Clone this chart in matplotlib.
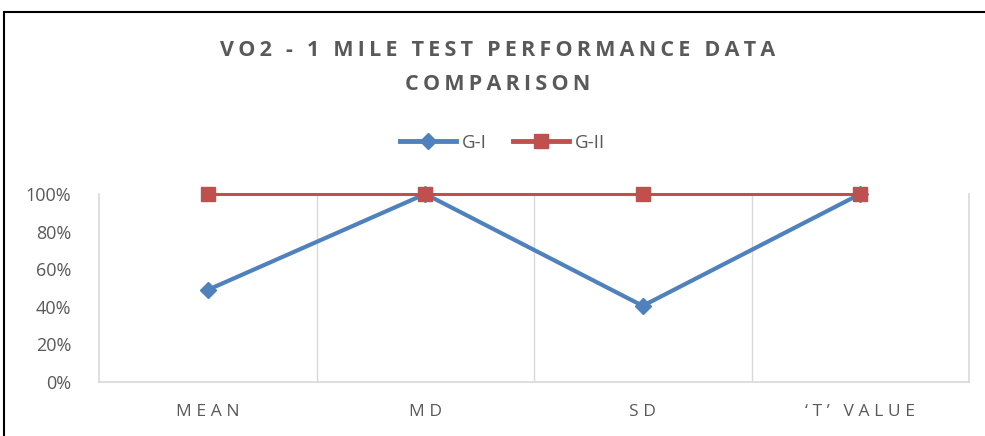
import matplotlib.pyplot as plt
from matplotlib.lines import Line2D
from matplotlib.patches import Rectangle
import numpy as np

categories = ["MEAN", "MD", "SD", "\u2018T\u2019 VALUE"]
g1 = [0.49, 1.00, 0.405, 1.00]
g2 = [1.00, 1.00, 1.00, 1.00]
yticks = [0, 0.2, 0.4, 0.6, 0.8, 1.0]

blue = "#4F81BD"
red = "#C0504D"
gray = "#595959"
grid = "#D9D9D9"

plt.rcParams['font.family'] = ['Open Sans', 'DejaVu Sans']


def spaced(s, sep="\u2009"):
    return sep.join(s)


fig = plt.figure(figsize=(9.85, 4.36), dpi=100)
# outer chart border
fig.patches.append(Rectangle((4 / 985, -0.01), 1.0, 1 - 12 / 436 + 0.01,
                             transform=fig.transFigure, fill=False,
                             edgecolor="black", linewidth=1.5))

ax = fig.add_axes([99 / 985, 1 - 382 / 436, 870 / 985, 188 / 436])
x = np.arange(len(categories))
ax.plot(x, g1, color=blue, lw=3, marker="D", ms=8, label="G-I", zorder=3, clip_on=False)
ax.plot(x, g2, color=red, lw=2.2, marker="s", ms=10, label="G-II", zorder=3, clip_on=False)

ax.set_xlim(-0.5, len(categories) - 0.5)
ax.set_ylim(0, 1.0)
ax.set_yticks(yticks)
ax.set_yticklabels([f"{int(v * 100)}%" for v in yticks], color=gray, fontsize=13)
ax.set_xticks(x)
ax.set_xticklabels([spaced(c, "\u2009\u200a") for c in categories], color=gray, fontsize=12.5)
ax.tick_params(length=0, pad=16, axis="x")
ax.tick_params(length=0, pad=20, axis="y")

for b in np.arange(0.5, len(categories) - 0.5, 1):
    ax.axvline(b, color=grid, lw=1, zorder=0)
ax.spines["top"].set_visible(False)
for s in ["left", "right", "bottom"]:
    ax.spines[s].set_color(grid)
    ax.spines[s].set_linewidth(1.2)

fig.text(0.505, 1 - 50 / 436, spaced("VO2 - 1 MILE TEST PERFORMANCE DATA"),
         ha="center", va="center", fontsize=15.5, fontweight="bold", color=gray)
fig.text(0.505, 1 - 85 / 436, spaced("COMPARISON"),
         ha="center", va="center", fontsize=15.5, fontweight="bold", color=gray)

handles = [Line2D([], [], color=blue, lw=3.5, marker="D", ms=8),
           Line2D([], [], color=red, lw=3.5, marker="s", ms=10)]
fig.legend(handles, ["G-I", "G-II"], loc="center", bbox_to_anchor=(0.51, 1 - 143 / 436),
           ncol=2, frameon=False, fontsize=13.5, handlelength=3.0, handletextpad=0.3,
           columnspacing=1.4, labelcolor=gray)

fig.savefig("out.png", dpi=100)
